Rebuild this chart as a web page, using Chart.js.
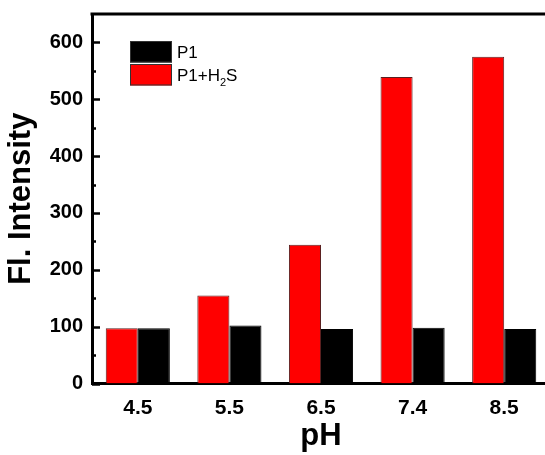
<!DOCTYPE html>
<html>
<head>
<meta charset="utf-8">
<script src="https://cdn.jsdelivr.net/npm/chart.js@4.4.1/dist/chart.umd.min.js"></script>
<style>
  html, body { margin: 0; padding: 0; background: #fff; overflow: hidden; }
  canvas { display: block; }
</style>
</head>
<body>
<canvas id="c" width="560" height="455"></canvas>
<script>
// ---- data ----
const pH = ['4.5', '5.5', '6.5', '7.4', '8.5'];
const p1H2S = [97, 155, 244, 539, 575];
const p1 = [97, 102, 96, 98, 96];
const yMajorTicks = [0, 100, 200, 300, 400, 500, 600];
const yMinorTicks = [50, 150, 250, 350, 450, 550];
const seriesLabels = ['P1+H\u2082S', 'P1'];

const FONT = '"Liberation Sans", Arial, Helvetica, sans-serif';

const framePlugin = {
  id: 'frame',
  afterDraw(chart) {
    const ctx = chart.ctx;
    const a = chart.chartArea;
    const y = chart.scales.y;
    ctx.save();
    ctx.strokeStyle = '#000';
    ctx.lineWidth = 3;
    ctx.beginPath();
    ctx.moveTo(a.left - 1.5, a.top);
    ctx.lineTo(chart.width, a.top);
    ctx.stroke();
    ctx.lineWidth = 2.5;
    yMajorTicks.forEach(v => {
      const py = Math.round(y.getPixelForValue(v)) + 0.5;
      ctx.beginPath();
      ctx.moveTo(a.left, py);
      ctx.lineTo(a.left + 8, py);
      ctx.stroke();
    });
    yMinorTicks.forEach(v => {
      const py = Math.round(y.getPixelForValue(v)) + 0.5;
      ctx.beginPath();
      ctx.moveTo(a.left, py);
      ctx.lineTo(a.left + 4, py);
      ctx.stroke();
    });
    ctx.restore();
  }
};

const legendPlugin = {
  id: 'innerLegend',
  afterDraw(chart) {
    const ctx = chart.ctx;
    const a = chart.chartArea;
    const x0 = a.left + 38;
    let y0 = a.top + 27;
    const bw = 42, bh = 21.5;
    const ds = chart.data.datasets.slice().reverse();
    ctx.save();
    ds.forEach(d => {
      ctx.fillStyle = d.backgroundColor;
      ctx.fillRect(x0, y0, bw, bh);
      ctx.strokeStyle = '#333';
      ctx.lineWidth = 1;
      ctx.strokeRect(x0 + 0.5, y0 + 0.5, bw - 1, bh - 1);
      let tx = x0 + bw + 5;
      const ty = y0 + bh / 2 + 6;
      ctx.fillStyle = '#000';
      ctx.textBaseline = 'alphabetic';
      const parts = d.label.split(/([\u2080-\u2089])/);
      parts.forEach(p => {
        if (!p) return;
        if (/[\u2080-\u2089]/.test(p)) {
          const s = String(p.charCodeAt(0) - 0x2080);
          ctx.font = '11px ' + FONT;
          ctx.fillText(s, tx, ty + 5);
          tx += ctx.measureText(s).width;
        } else {
          ctx.font = '17px ' + FONT;
          ctx.fillText(p, tx, ty);
          tx += ctx.measureText(p).width;
        }
      });
      y0 += bh + 1.5;
    });
    ctx.restore();
  }
};

new Chart(document.getElementById('c'), {
  type: 'bar',
  data: {
    labels: pH,
    datasets: [
      { label: seriesLabels[0], data: p1H2S, backgroundColor: '#ff0000', borderColor: '#5a2020', borderWidth: 1 },
      { label: seriesLabels[1], data: p1, backgroundColor: '#000000', borderColor: '#000000', borderWidth: 1 }
    ]
  },
  options: {
    responsive: false,
    animation: false,
    devicePixelRatio: 1,
    layout: { padding: { top: 14, right: 10, left: 0, bottom: 0 } },
    datasets: { bar: { categoryPercentage: 0.7, barPercentage: 1.0 } },
    plugins: { legend: { display: false }, tooltip: { enabled: false } },
    scales: {
      x: {
        type: 'category',
        offset: true,
        grid: { display: false, drawTicks: false },
        border: { display: true, width: 3, color: '#000' },
        ticks: { color: '#000', font: { family: FONT, size: 21, weight: 'bold' }, padding: 12, maxRotation: 0 },
        title: { display: true, text: 'pH', color: '#000', font: { family: FONT, size: 31, weight: 'bold' }, padding: { top: 0, bottom: 0 } },
        afterFit(s) { s.height = 71.5; s.paddingLeft = 0; s.paddingRight = 0; }
      },
      y: {
        min: 0,
        max: 650,
        grid: { display: false, drawTicks: false },
        border: { display: true, width: 3, color: '#000' },
        ticks: { color: '#000', font: { family: FONT, size: 20, weight: 'bold' }, padding: 9 },
        afterBuildTicks(s) { s.ticks = yMajorTicks.map(v => ({ value: v })); },
        title: { display: true, text: 'Fl. Intensity', color: '#000', font: { family: FONT, size: 31, weight: 'bold' }, padding: { top: 3, bottom: 0 } },
        afterFit(s) { s.width = 92; s.paddingTop = 0; s.paddingBottom = 0; }
      }
    }
  },
  plugins: [framePlugin, legendPlugin]
});
</script>
</body>
</html>
